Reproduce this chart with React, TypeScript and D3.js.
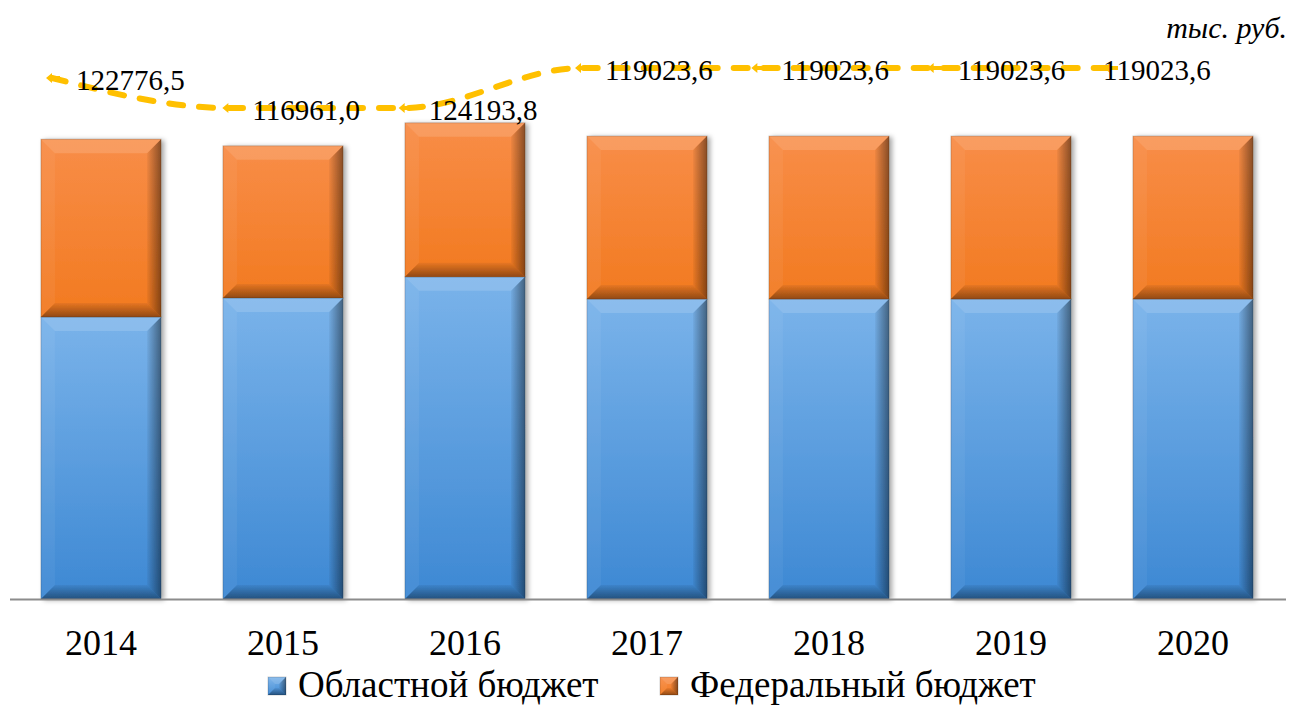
import React from 'react';
import * as d3 from 'd3';

// categories and values (тыс. руб.)
const years = ['2014', '2015', '2016', '2017', '2018', '2019', '2020'];
const oblastBudget = [72300, 77200, 82600, 76900, 76900, 76900, 76900];
const federalBudget = [45600, 39000, 39500, 41800, 41800, 41800, 41800];
const totalLabels = [122776.5, 116961.0, 124193.8, 119023.6, 119023.6, 119023.6, 119023.6];
// line series sits on its own hidden secondary axis (0..100)
const totalLevel = [55, 40, 40, 60, 60, 60, 60];
const legendNames = ['Областной бюджет', 'Федеральный бюджет'];

const W = 1292;
const H = 706;
const FONT = 'Liberation Serif';

const fmt = (v: number) => d3.format('.1f')(v).replace('.', ',');

type Seg = { x: number; y: number; w: number; h: number; kind: 'blue' | 'orange' };

const BevelRect = ({ x, y, w, h, kind, b = 14 }: Seg & { b?: number }) => {
  const bb = Math.min(b, h / 2, w / 2);
  const top = `M${x},${y}L${x + w},${y}L${x + w - bb},${y + bb}L${x + bb},${y + bb}Z`;
  const left = `M${x},${y}L${x + bb},${y + bb}L${x + bb},${y + h - bb}L${x},${y + h}Z`;
  const right = `M${x + w},${y}L${x + w},${y + h}L${x + w - bb},${y + h - bb}L${x + w - bb},${y + bb}Z`;
  const bottom = `M${x},${y + h}L${x + bb},${y + h - bb}L${x + w - bb},${y + h - bb}L${x + w},${y + h}Z`;
  return (
    <g>
      <rect x={x} y={y} width={w} height={h} fill={`url(#body-${kind})`} />
      <path d={top} fill="#ffffff" fillOpacity={0.14} />
      <path d={left} fill="#ffffff" fillOpacity={0.05} />
      <path d={right} fill="url(#bevel-right)" />
      <path d={bottom} fill="url(#bevel-bottom)" />
      <rect x={x} y={y} width={w} height={h} fill="none" stroke="#000" strokeOpacity={0.18} strokeWidth={1} />
    </g>
  );
};

const App = () => {
  const x = d3.scaleBand<string>().domain(years).range([10, 1284]).paddingInner(0.34).paddingOuter(0.17);
  const y = d3.scaleLinear().domain([0, 130000]).range([599, 92]);
  const xLine = d3.scalePoint<string>().domain(years).range([52, 1110]);
  const y2 = d3.scaleLinear().domain([0, 100]).range([188, -12]);

  const lineGen = d3
    .line<number>()
    .x((_, i) => xLine(years[i]) as number)
    .y((d) => y2(d))
    .curve(d3.curveMonotoneX);

  const segs: Seg[] = [];
  years.forEach((yr, i) => {
    const x0 = x(yr) as number;
    const bw = x.bandwidth();
    const b0 = y(0);
    const b1 = y(oblastBudget[i]);
    const b2 = y(oblastBudget[i] + federalBudget[i]);
    segs.push({ x: x0, y: b1, w: bw, h: b0 - b1, kind: 'blue' });
    segs.push({ x: x0, y: b2, w: bw, h: b1 - b2, kind: 'orange' });
  });

  const marker = (px: number, py: number) =>
    `M${px - 6},${py}L${px},${py - 5}L${px},${py - 2}L${px + 8},${py - 2}L${px + 8},${py + 2}L${px},${py + 2}L${px},${py + 5}Z`;

  return (
    <svg width={W} height={H} style={{ position: 'absolute', left: 0, top: 0, background: '#fff' }}>
      <defs>
        <linearGradient id="body-blue" x1="0" y1="0" x2="0" y2="1">
          <stop offset="0" stopColor="#7ab3ea" />
          <stop offset="1" stopColor="#3d88d3" />
        </linearGradient>
        <linearGradient id="body-orange" x1="0" y1="0" x2="0" y2="1">
          <stop offset="0" stopColor="#f88d48" />
          <stop offset="1" stopColor="#f27a20" />
        </linearGradient>
        <linearGradient id="bevel-right" x1="0" y1="0" x2="1" y2="0">
          <stop offset="0" stopColor="#000" stopOpacity={0.04} />
          <stop offset="1" stopColor="#000" stopOpacity={0.45} />
        </linearGradient>
        <linearGradient id="bevel-bottom" x1="0" y1="0" x2="0" y2="1">
          <stop offset="0" stopColor="#000" stopOpacity={0.05} />
          <stop offset="1" stopColor="#000" stopOpacity={0.4} />
        </linearGradient>
        <filter id="shadow" x="-10%" y="-10%" width="130%" height="130%">
          <feDropShadow dx="3" dy="1" stdDeviation="2.5" floodColor="#000" floodOpacity="0.35" />
        </filter>
      </defs>

      {/* unit label */}
      <text x={1287} y={38} textAnchor="end" fontSize={30} fontStyle="italic" fontFamily={FONT}>
        тыс. руб.
      </text>

      {/* bars */}
      <g filter="url(#shadow)">
        {segs.map((s, i) => (
          <BevelRect key={i} {...s} />
        ))}
      </g>

      {/* category axis */}
      <line x1={10} x2={1286} y1={599.5} y2={599.5} stroke="#8c8c8c" strokeWidth={2} />
      {years.map((yr) => (
        <text key={yr} x={(x(yr) as number) + x.bandwidth() / 2} y={655} textAnchor="middle" fontSize={36} fontFamily={FONT}>
          {yr}
        </text>
      ))}

      {/* total line */}
      <path
        d={lineGen(totalLevel) as string}
        fill="none"
        stroke="#ffc000"
        strokeWidth={6}
        strokeDasharray="14 16"
        strokeLinecap="round"
      />
      {totalLevel.map((v, i) => (
        <path key={i} d={marker(xLine(years[i]) as number, y2(v))} fill="#ffc000" />
      ))}
      {totalLevel.map((v, i) => (
        <text
          key={i}
          x={(xLine(years[i]) as number) + (i === years.length - 1 ? -7 : 24)}
          y={y2(v) + 12}
          fontSize={29}
          fontFamily={FONT}
        >
          {fmt(totalLabels[i])}
        </text>
      ))}

      {/* legend */}
      {legendNames.map((name, i) => {
        const lx = i === 0 ? 268 : 660;
        return (
          <g key={name}>
            <BevelRect x={lx} y={677} w={18} h={18} kind={i === 0 ? 'blue' : 'orange'} b={7} />
            <text x={lx + 30} y={697} fontSize={37} fontFamily={FONT}>
              {name}
            </text>
          </g>
        );
      })}
    </svg>
  );
};

export default App;
